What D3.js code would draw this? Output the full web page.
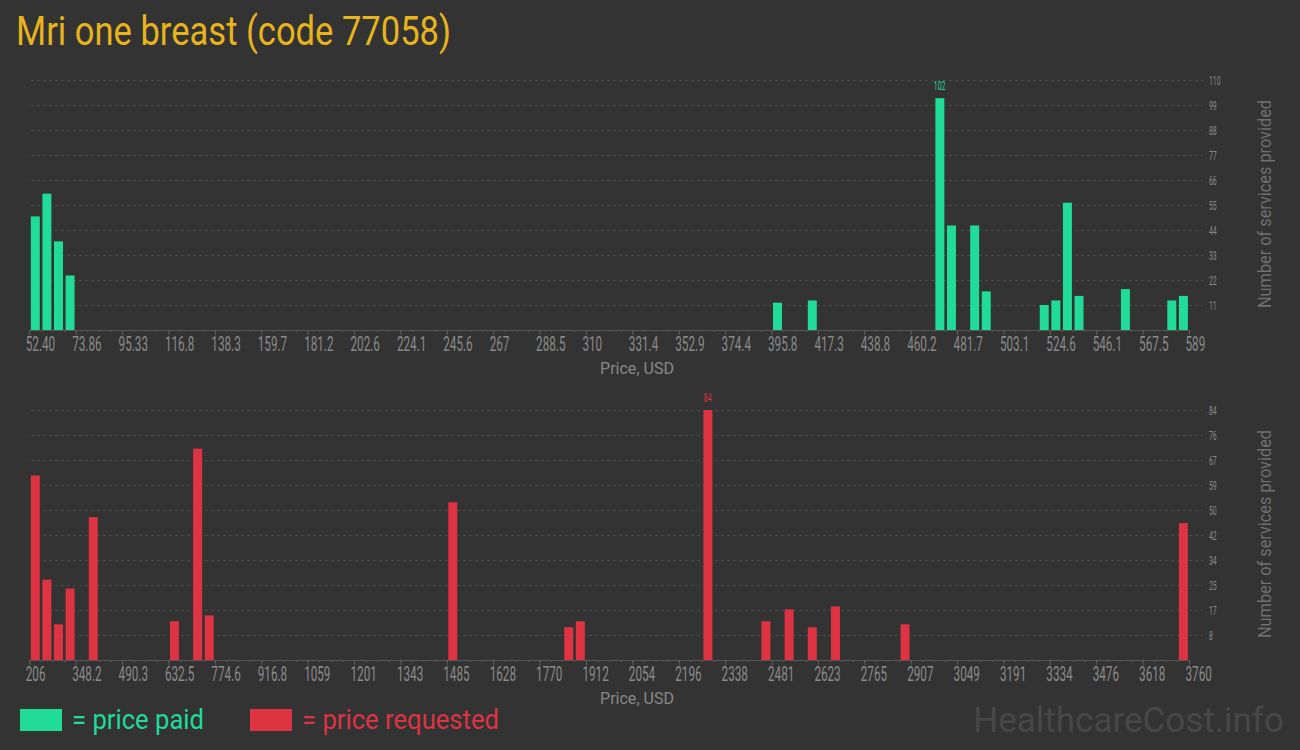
<!DOCTYPE html>
<html>
<head>
<meta charset="utf-8">
<script src="https://cdn.jsdelivr.net/npm/d3@7"></script>
<style>
  html, body { margin: 0; padding: 0; background: #333333; }
  svg { display: block; }
</style>
</head>
<body>
<svg id="chart" width="1300" height="750"></svg>
<script>
// ---------------- data ----------------
const title = "Mri one breast (code 77058)";
const binCount = 100;

// price paid: histogram bin index (0..99) and number of services
const paidBins   = [0, 1, 2, 3, 64, 67, 78, 79, 81, 82, 87, 88, 89, 90, 94, 98, 99];
const paidCounts = [50, 60, 39, 24, 12, 13, 102, 46, 46, 17, 11, 13, 56, 15, 18, 13, 15];
const paidYMax = 110;
const paidXTicks = ["52.40","73.86","95.33","116.8","138.3","159.7","181.2","202.6","224.1","245.6","267","288.5","310","331.4","352.9","374.4","395.8","417.3","438.8","460.2","481.7","503.1","524.6","546.1","567.5","589"];
const paidYTicks = ["11","22","33","44","55","66","77","88","99","110"];

// price requested
const reqBins   = [0, 1, 2, 3, 5, 12, 14, 15, 36, 46, 47, 58, 63, 65, 67, 69, 75, 99];
const reqCounts = [62, 27, 12, 24, 48, 13, 71, 15, 53, 11, 13, 84, 13, 17, 11, 18, 12, 46];
const reqYMax = 84;
const reqXTicks = ["206","348.2","490.3","632.5","774.6","916.8","1059","1201","1343","1485","1628","1770","1912","2054","2196","2338","2481","2623","2765","2907","3049","3191","3334","3476","3618","3760"];
const reqYTicks = ["8","17","25","34","42","50","59","67","76","84"];

const legendLabels = ["= price paid", "= price requested"];
const colors = { paid: "#20db9a", req: "#dd3343", title: "#e8b41c" };

// ---------------- drawing ----------------
const svg = d3.select("#chart");
svg.append("rect").attr("width", 1300).attr("height", 750).attr("fill", "#333333");

svg.append("text")
  .attr("x", 16).attr("y", 45)
  .attr("font-family", "Roboto, sans-serif")
  .attr("font-size", 41)
  .attr("fill", colors.title)
  .attr("textLength", 435)
  .attr("lengthAdjust", "spacingAndGlyphs")
  .text(title);

function drawPanel(cfg) {
  const g = svg.append("g");
  const x = d3.scaleLinear().domain([0, binCount]).range([29.3, 1189]);
  const y = d3.scaleLinear().domain([0, cfg.yMax]).range([cfg.base, cfg.base - 250]);
  const step = x(1) - x(0);

  // gridlines
  const gridVals = d3.range(1, 11).map(k => cfg.yMax * k / 10);
  g.selectAll(".grid").data(gridVals).enter().append("line")
    .attr("x1", 31).attr("x2", 1203)
    .attr("y1", d => Math.round(y(d)) + 0.5).attr("y2", d => Math.round(y(d)) + 0.5)
    .attr("stroke", "#4b4b4b").attr("stroke-width", 1)
    .attr("stroke-dasharray", "3,3");

  // y tick labels (right side), condensed
  g.selectAll(".ylab").data(gridVals).enter().append("text")
    .attr("transform", d => `translate(1209,${y(d) + 4.5}) scale(0.55,1)`)
    .attr("font-family", "Roboto, sans-serif")
    .attr("font-size", 12.5).attr("fill", "#8a8a8a")
    .text((d, i) => cfg.yTicks[i]);

  // bars
  const bars = cfg.bins.map((b, i) => ({ bin: b, v: cfg.counts[i] }));
  g.selectAll(".bar").data(bars).enter().append("rect")
    .attr("x", d => x(d.bin) + 1.5)
    .attr("width", step - 2.6)
    .attr("y", d => y(d.v))
    .attr("height", d => y(0) - y(d.v))
    .attr("fill", cfg.color);

  // max label
  const maxBar = bars.reduce((a, b) => (b.v > a.v ? b : a));
  g.append("text")
    .attr("transform", `translate(${x(maxBar.bin) + step / 2},${y(maxBar.v) - 8}) scale(0.55,1)`)
    .attr("text-anchor", "middle")
    .attr("font-family", "Roboto, sans-serif")
    .attr("font-size", 12.5).attr("fill", cfg.color)
    .text(maxBar.v);

  // minor ticks on x axis
  const minor = d3.axisBottom(x).tickValues(d3.range(0, binCount + 1)).tickSize(2).tickFormat("");
  const gm = g.append("g").attr("transform", `translate(0,${cfg.base})`).call(minor);
  gm.select(".domain").remove();
  gm.selectAll("line").attr("stroke", "#5a5a5a");

  // major axis
  const major = d3.axisBottom(x)
    .tickValues(d3.range(0, binCount + 1, 4))
    .tickSize(5)
    .tickSizeOuter(0)
    .tickFormat((d, i) => cfg.xTicks[i]);
  const ga = g.append("g").attr("transform", `translate(0,${cfg.base})`).call(major);
  ga.select(".domain").attr("stroke", "#555555").attr("d", `M29.3,0.5H1190`);
  ga.selectAll("line").attr("stroke", "#5f5f5f");
  ga.selectAll("text")
    .attr("font-family", "Roboto, sans-serif")
    .attr("font-size", 19.5).attr("fill", "#8a8a8a")
    .attr("text-anchor", "start")
    .attr("x", null).attr("y", null).attr("dy", null)
    .attr("transform", "translate(-4,21) scale(0.6,1)");

  // x axis title
  g.append("text")
    .attr("x", 637).attr("y", cfg.base + 44)
    .attr("text-anchor", "middle")
    .attr("font-family", "Roboto, sans-serif")
    .attr("font-size", 17).attr("fill", "#888888")
    .attr("textLength", 74).attr("lengthAdjust", "spacingAndGlyphs")
    .text("Price, USD");

  // y axis title
  g.append("text")
    .attr("transform", `translate(1271,${cfg.base - 126}) rotate(-90)`)
    .attr("text-anchor", "middle")
    .attr("font-family", "Roboto, sans-serif")
    .attr("font-size", 19).attr("fill", "#6f6f6f")
    .attr("textLength", 208).attr("lengthAdjust", "spacingAndGlyphs")
    .text("Number of services provided");
}

drawPanel({ base: 330, yMax: paidYMax, bins: paidBins, counts: paidCounts, xTicks: paidXTicks, yTicks: paidYTicks, color: colors.paid });
drawPanel({ base: 660, yMax: reqYMax, bins: reqBins, counts: reqCounts, xTicks: reqXTicks, yTicks: reqYTicks, color: colors.req });

// legend
const legend = svg.append("g");
const legendItems = [
  { label: legendLabels[0], color: colors.paid, x: 20, w: 132 },
  { label: legendLabels[1], color: colors.req, x: 250, w: 197 }
];
legendItems.forEach(it => {
  legend.append("rect").attr("x", it.x).attr("y", 709).attr("width", 42).attr("height", 22).attr("fill", it.color);
  legend.append("text")
    .attr("x", it.x + 52).attr("y", 729)
    .attr("font-family", "Roboto, sans-serif")
    .attr("font-size", 27).attr("fill", it.color)
    .attr("textLength", it.w).attr("lengthAdjust", "spacingAndGlyphs")
    .text(it.label);
});

// watermark
svg.append("text")
  .attr("x", 1284).attr("y", 732)
  .attr("text-anchor", "end")
  .attr("font-family", "Roboto, sans-serif")
  .attr("font-size", 35).attr("fill", "#474747")
  .text("HealthcareCost.info");
</script>
</body>
</html>
